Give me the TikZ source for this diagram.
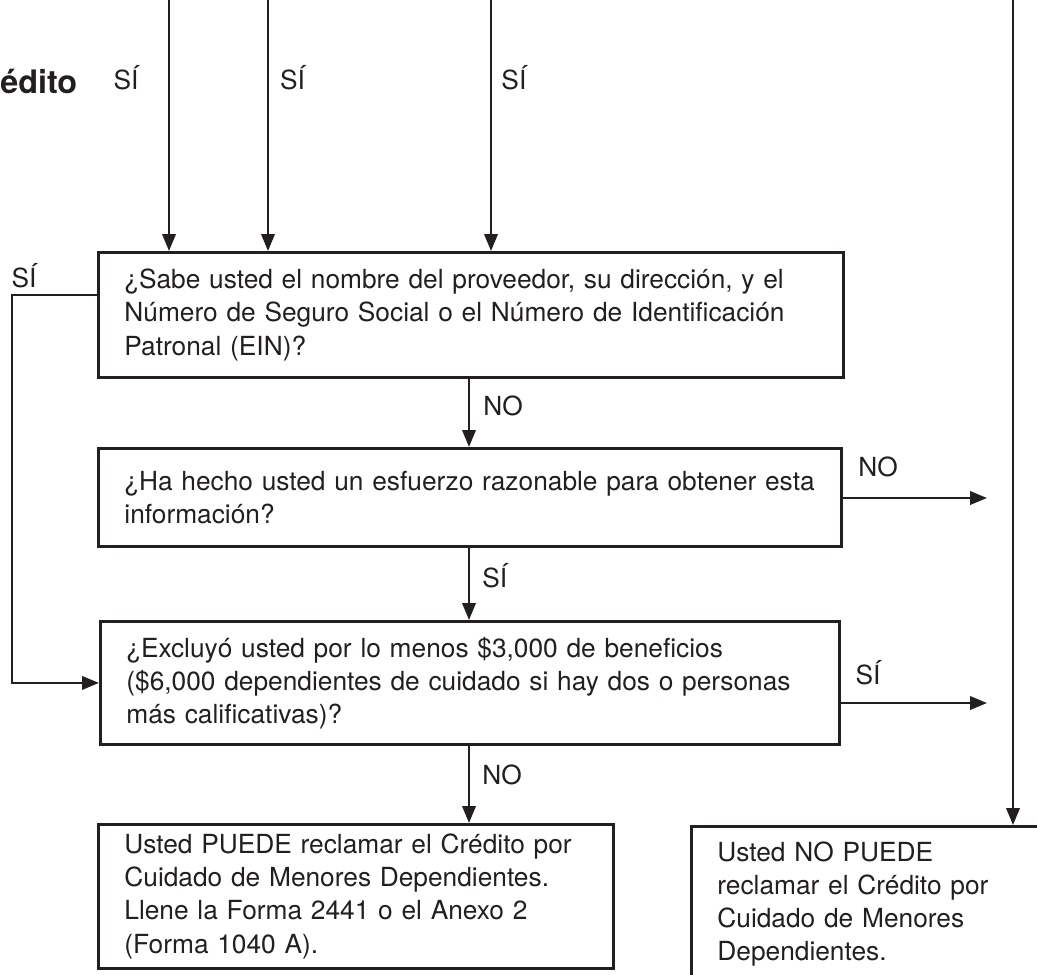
\documentclass[tikz,border=0pt]{standalone}
\usepackage{fontspec}
\setmainfont{TeX Gyre Heros}
\usetikzlibrary{arrows.meta,positioning}
\definecolor{ink}{HTML}{231F20}
\tikzset{
  qbox/.style={draw=ink,line width=2pt,rectangle,anchor=north west,align=left,
    inner xsep=0.65cm,inner ysep=0pt,text=ink,font=\fontsize{18.7}{23.5}\selectfont},
  lbl/.style={text=ink,inner sep=0pt,font=\fontsize{18.7}{22}\selectfont},
  flow/.style={draw=ink,line width=1.8pt,-{Triangle[length=0.42cm,width=0.33cm]}}
}

\begin{document}
\begin{tikzpicture}[x=0.025cm,y=-0.025cm]
  \useasboundingbox (0,0) rectangle (1037,974);
  \clip (0,0) rectangle (1037,974);
  % cut-off heading
  \node[anchor=base west,inner sep=0pt,text=ink,font=\bfseries\fontsize{23}{26}\selectfont] (head) at (0,93) {édito};
  % question boxes
  \node[qbox,text width=17.325cm,minimum height=3.125cm] (b1) at (97,251)
    {¿Sabe usted el nombre del proveedor, su dirección, y el\\
     Número de Seguro Social o el Número de Identificación\\
     Patronal (EIN)?};
  \node[qbox,text width=17.275cm,minimum height=2.45cm] (b2) at (97,447)
    {¿Ha hecho usted un esfuerzo razonable para obtener esta\\
     información?};
  \node[qbox,text width=17.175cm,minimum height=3.075cm] (b3) at (99,620)
    {¿Excluyó usted por lo menos \$3,000 de beneficios\\
     (\$6,000 dependientes de cuidado si hay dos o personas\\
     más calificativas)?};
  % answers
  \node[qbox,text width=11.575cm,minimum height=3.6cm] (b4) at (97,823)
    {Usted PUEDE reclamar el Crédito por\\
     Cuidado de Menores Dependientes.\\
     Llene la Forma 2441 o el Anexo 2\\
     (Forma 1040 A).};
  \node[qbox,text width=8.5cm,minimum height=3.9cm] (b5) at (690,825)
    {Usted NO PUEDE\\
     reclamar el Crédito por\\
     Cuidado de Menores\\
     Dependientes.};
  % incoming arrows from above
  \coordinate (t1) at (169,0);
  \coordinate (t2) at (268,0);
  \coordinate (t3) at (491,0);
  \coordinate (t4) at (1013,0);
  \draw[flow] (t1) -- node[lbl,pos=0.31,left=0.73cm] (s1) {SÍ} (t1 |- b1.north);
  \draw[flow] (t2) -- node[lbl,pos=0.31,right=0.27cm] (s2) {SÍ} (t2 |- b1.north);
  \draw[flow] (t3) -- node[lbl,pos=0.31,right=0.23cm] (s3) {SÍ} (t3 |- b1.north);
  \draw[flow] (t4) -- (t4 |- b5.north);
  % down the middle
  \coordinate (mx) at (469,0);
  \draw[flow] (b1.south -| mx) -- node[lbl,pos=0.4,right=0.33cm] (n1) {NO} (b2.north -| mx);
  \draw[flow] (b2.south -| mx) -- node[lbl,pos=0.38,right=0.3cm] (s4) {SÍ} (b3.north -| mx);
  \draw[flow] (b3.south -| mx) -- node[lbl,pos=0.38,right=0.3cm] (n2) {NO} (b4.north -| mx);
  % out to the right
  \coordinate (e2) at (987,498);
  \coordinate (e3) at (987,703);
  \draw[flow] (b2.east |- e2) -- (e2);
  \draw[flow] (b3.east |- e3) -- (e3);
  \node[lbl] (n3) at (878,467) {NO};
  \node[lbl] (s5) at (868,673) {SÍ};
  % loop on the left
  \coordinate (lp) at (12,295);
  \draw[flow] (b1.west |- lp) -- (lp) |- (b3.west);
  \node[lbl] (s6) at (24,276) {SÍ};
\end{tikzpicture}
\end{document}
